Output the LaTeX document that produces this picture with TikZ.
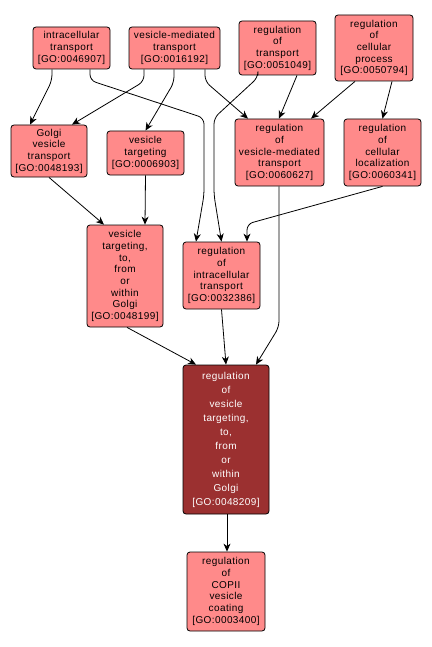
\documentclass[tikz,border=0pt]{standalone}
\usepackage{fontspec}
\setmainfont{Liberation Sans}[LetterSpace=4]
\usetikzlibrary{arrows.meta}
\definecolor{lightfill}{RGB}{255,138,138}
\definecolor{darkfill}{RGB}{155,48,48}
\begin{document}
\begin{tikzpicture}[x=1pt,y=-1pt,
  gobox/.style={draw=black,line width=0.8pt,rounded corners=3pt,fill=lightfill,align=center,inner sep=0pt,
    font=\fontsize{10}{11.7}\selectfont},
  darkbox/.style={gobox,fill=darkfill,text=white,font=\fontsize{10}{14}\selectfont},
  edge/.style={draw=black,line width=0.8pt,rounded corners=6pt,-{Stealth[length=8pt,width=7pt,inset=2.5pt]}}]
\useasboundingbox (0,0) rectangle (431,647);
\node[gobox,minimum width=77pt,minimum height=42pt] (it) at (71.5,48) {intracellular\\transport\\{[GO:0046907]}};
\node[gobox,minimum width=91pt,minimum height=42pt] (vmt) at (174.5,48) {vesicle-mediated\\transport\\{[GO:0016192]}};
\node[gobox,minimum width=77pt,minimum height=54pt] (rt) at (277.5,48) {regulation\\of\\transport\\{[GO:0051049]}};
\node[gobox,minimum width=78pt,minimum height=66pt] (rcp) at (374,48) {regulation\\of\\cellular\\process\\{[GO:0050794]}};
\node[gobox,minimum width=76pt,minimum height=52pt] (gvt) at (49,151) {Golgi\\vesicle\\transport\\{[GO:0048193]}};
\node[gobox,minimum width=77pt,minimum height=44pt] (vt) at (145.5,153) {vesicle\\targeting\\{[GO:0006903]}};
\node[gobox,minimum width=89pt,minimum height=67pt] (rvmt) at (279.5,152.5) {regulation\\of\\vesicle-mediated\\transport\\{[GO:0060627]}};
\node[gobox,minimum width=77pt,minimum height=67pt] (rcl) at (382.5,152.5) {regulation\\of\\cellular\\localization\\{[GO:0060341]}};
\node[gobox,minimum width=76pt,minimum height=102pt] (vtg) at (125,276) {vesicle\\targeting,\\to,\\from\\or\\within\\Golgi\\{[GO:0048199]}};
\node[gobox,minimum width=77pt,minimum height=67pt] (rit) at (221.5,275.5) {regulation\\of\\intracellular\\transport\\{[GO:0032386]}};
\node[darkbox,minimum width=86pt,minimum height=149pt] (rvt) at (226,439.5) {regulation\\of\\vesicle\\targeting,\\to,\\from\\or\\within\\Golgi\\{[GO:0048209]}};
\node[gobox,minimum width=78pt,minimum height=79pt] (cop) at (226,591.5) {regulation\\of\\COPII\\vesicle\\coating\\{[GO:0003400]}};
% edges
\draw[edge] ([xshift=-19.5pt]it.south) -- ++(0,11) -- ([xshift=-19pt]gvt.north);
\draw[edge] ([xshift=18.5pt]it.south) -- ++(0,11) -- (204,118) -- (204,195) -- ([xshift=-25.5pt]rit.north);
\draw[edge] ([xshift=-30.5pt]vmt.south) -- ++(0,12) -- ([xshift=23pt]gvt.north);
\draw[edge] ([xshift=-0.5pt]vmt.south) -- ++(0,13) -- (vt.north);
\draw[edge] ([xshift=30.5pt]vmt.south) -- ++(0,12) -- ([xshift=-31.5pt]rvmt.north);
\draw[edge] ([xshift=-19.5pt]rt.south) -- ++(0,2) -- (214,118) -- (214,195) -- (rit.north);
\draw[edge] ([xshift=19.5pt]rt.south) -- ([xshift=-0.5pt]rvmt.north);
\draw[edge] ([xshift=-19pt]rcp.south) -- ([xshift=31.5pt]rvmt.north);
\draw[edge] ([xshift=18pt]rcp.south) -- (rcl.north);
\draw[edge] (gvt.south) -- ([xshift=-21pt]vtg.north);
\draw[edge] (vt.south) -- ([xshift=20pt]vtg.north);
\draw[edge] (rcl.south) -- (247,224) -- ([xshift=25.5pt]rit.north);
\draw[edge] ([xshift=-0.5pt]rvmt.south) -- (279,327) -- ([xshift=30pt]rvt.north);
\draw[edge] ([xshift=2pt]vtg.south) -- ([xshift=-30pt]rvt.north);
\draw[edge] (rit.south) -- (rvt.north);
\draw[edge] ([xshift=1pt]rvt.south) -- ([xshift=1pt]cop.north);
\end{tikzpicture}
\end{document}
